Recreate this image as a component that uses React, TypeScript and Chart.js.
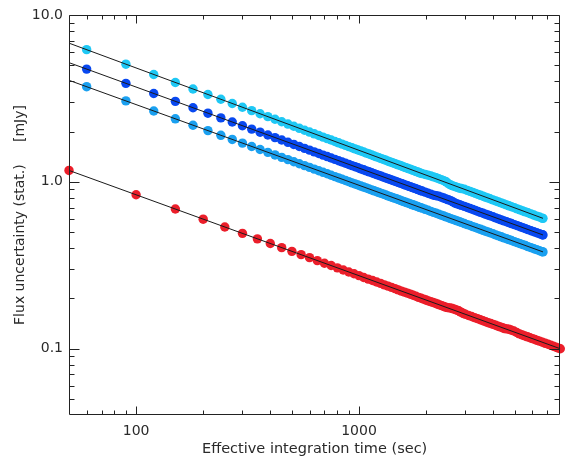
import { useEffect, useRef } from "react";
import { Chart, registerables } from "chart.js";

Chart.register(...registerables);

// Effective integration time (sec) for the three blue series
const blueTimes = [
  60, 90, 120, 150, 180, 210, 240, 270, 300, 330, 360, 390, 420, 450, 480, 510, 540, 570, 600, 630, 660, 690, 720, 750, 780, 810, 840, 870, 900, 930, 960,
  990, 1020, 1050, 1080, 1110, 1140, 1170, 1200, 1230, 1260, 1290, 1320, 1350, 1380, 1410, 1440, 1470, 1500, 1530, 1560, 1590, 1620, 1650, 1680, 1710, 1740, 1770, 1800, 1830, 1860, 1890, 1920,
  1980, 2040, 2100, 2160, 2220, 2280, 2340, 2400, 2460, 2520, 2580, 2640, 2700, 2760, 2820, 2880,
  2970, 3060, 3150, 3240, 3330, 3420, 3510, 3600, 3690, 3780, 3870,
  3990, 4110, 4230, 4350, 4470, 4590, 4710, 4830,
  4980, 5130, 5280, 5430, 5580, 5730,
  5910, 6090, 6270, 6450, 6630, 6690,
];

// Flux uncertainty (mJy)
const cyanFlux = [
  6.197, 5.072, 4.4, 3.941, 3.601, 3.337, 3.124, 2.948, 2.798, 2.67, 2.557, 2.458, 2.37, 2.29, 2.219, 2.153, 2.093, 2.038, 1.987, 1.94, 1.896, 1.854, 1.816, 1.78, 1.745, 1.713, 1.683, 1.654, 1.626, 1.6, 1.575,
  1.552, 1.529, 1.508, 1.486, 1.467, 1.447, 1.429, 1.411, 1.394, 1.377, 1.362, 1.346, 1.331, 1.317, 1.303, 1.289, 1.277, 1.264, 1.252, 1.239, 1.228, 1.217, 1.206, 1.195, 1.185, 1.174, 1.165, 1.155, 1.146, 1.136, 1.127, 1.119,
  1.107, 1.097, 1.086, 1.071, 1.057, 1.043, 1.03, 1.017, 1.0, 0.973, 0.957, 0.946, 0.936, 0.926, 0.916, 0.911,
  0.902, 0.889, 0.876, 0.864, 0.852, 0.841, 0.83, 0.82, 0.81, 0.801, 0.791,
  0.779, 0.768, 0.757, 0.747, 0.737, 0.727, 0.718, 0.709,
  0.699, 0.688, 0.679, 0.669, 0.66, 0.652,
  0.642, 0.632, 0.623, 0.615, 0.606, 0.604,
];

const darkBlueFlux = [
  4.74, 3.892, 3.385, 3.037, 2.779, 2.579, 2.416, 2.282, 2.168, 2.07, 1.984, 1.909, 1.841, 1.78, 1.725, 1.675, 1.629, 1.587, 1.548, 1.512, 1.478, 1.446, 1.417, 1.389, 1.363, 1.338, 1.315, 1.292, 1.271, 1.251, 1.232,
  1.214, 1.196, 1.18, 1.163, 1.148, 1.133, 1.119, 1.105, 1.092, 1.079, 1.067, 1.055, 1.044, 1.033, 1.022, 1.012, 1.002, 0.992, 0.982, 0.973, 0.964, 0.955, 0.947, 0.939, 0.931, 0.923, 0.915, 0.908, 0.901, 0.893, 0.886, 0.88,
  0.867, 0.854, 0.842, 0.831, 0.825, 0.819, 0.809, 0.799, 0.789, 0.78, 0.771, 0.758, 0.745, 0.737, 0.73, 0.722,
  0.712, 0.701, 0.692, 0.682, 0.673, 0.664, 0.656, 0.648, 0.64, 0.633, 0.626,
  0.617, 0.608, 0.599, 0.591, 0.583, 0.576, 0.569, 0.562,
  0.554, 0.546, 0.538, 0.531, 0.524, 0.517,
  0.509, 0.502, 0.495, 0.488, 0.482, 0.48,
];

const midBlueFlux = [
  3.717, 3.055, 2.658, 2.386, 2.184, 2.027, 1.9, 1.795, 1.706, 1.629, 1.562, 1.502, 1.449, 1.402, 1.359, 1.319, 1.283, 1.25, 1.22, 1.191, 1.165, 1.14, 1.117, 1.095, 1.074, 1.055, 1.036, 1.019, 1.002, 0.986, 0.971,
  0.957, 0.943, 0.93, 0.918, 0.906, 0.894, 0.883, 0.872, 0.862, 0.852, 0.842, 0.833, 0.824, 0.815, 0.807, 0.798, 0.791, 0.783, 0.775, 0.768, 0.761, 0.754, 0.748, 0.741, 0.735, 0.728, 0.723, 0.717, 0.711, 0.705, 0.7, 0.695,
  0.684, 0.675, 0.665, 0.656, 0.648, 0.639, 0.631, 0.624, 0.616, 0.609, 0.602, 0.595, 0.589, 0.583, 0.577, 0.571,
  0.562, 0.554, 0.547, 0.539, 0.532, 0.525, 0.519, 0.512, 0.506, 0.501, 0.495,
  0.488, 0.481, 0.474, 0.468, 0.461, 0.456, 0.45, 0.445,
  0.438, 0.432, 0.426, 0.42, 0.415, 0.409,
  0.403, 0.397, 0.392, 0.386, 0.381, 0.38,
];

const redTimes = [
  50, 100, 150, 200, 250, 300, 350, 400, 450, 500, 550, 600, 650, 700, 750, 800, 850, 900, 950, 1000,
  1050, 1100, 1150, 1200, 1250, 1300, 1350, 1400, 1450, 1500, 1550, 1600, 1650, 1700, 1750, 1800, 1850, 1900, 1950, 2000,
  2050, 2100, 2150, 2200, 2250, 2300, 2350, 2400, 2450, 2500, 2550, 2600, 2650, 2700, 2750, 2800, 2850, 2900, 2950, 3000,
  3100, 3200, 3300, 3400, 3500, 3600, 3700, 3800, 3900, 4000, 4100, 4200, 4300, 4400, 4500, 4600, 4700, 4800,
  4950, 5100, 5250, 5400, 5550, 5700, 5850, 6000, 6150, 6300, 6450,
  6650, 6850, 7050, 7250, 7450, 7650, 7850, 8000,
];

const redFlux = [
  1.17, 0.836, 0.687, 0.597, 0.536, 0.491, 0.455, 0.427, 0.403, 0.383, 0.366, 0.351, 0.337, 0.325, 0.315, 0.305, 0.296, 0.288, 0.281, 0.274,
  0.267, 0.261, 0.256, 0.251, 0.246, 0.241, 0.237, 0.233, 0.229, 0.225, 0.221, 0.218, 0.215, 0.212, 0.209, 0.206, 0.203, 0.2005, 0.198, 0.1955,
  0.193, 0.191, 0.189, 0.187, 0.185, 0.183, 0.181, 0.179, 0.177, 0.176, 0.1755, 0.175, 0.173, 0.1715, 0.17, 0.1686, 0.166, 0.164, 0.162, 0.1606,
  0.158, 0.1557, 0.1534, 0.1512, 0.149, 0.147, 0.145, 0.143, 0.1414, 0.1397, 0.138, 0.1364, 0.135, 0.1334, 0.1319, 0.1314, 0.1308, 0.1294,
  0.1275, 0.1249, 0.1225, 0.1208, 0.1192, 0.1177, 0.1162, 0.1148, 0.1134, 0.1121, 0.1109,
  0.1092, 0.1076, 0.1062, 0.1047, 0.1033, 0.102, 0.1007, 0.0998,
];

// Fitted power-law lines (end points)
const blueFitTimes = [50, 6690];
const cyanFit = [6.78, 0.604];
const darkBlueFit = [5.18, 0.48];
const midBlueFit = [4.06, 0.38];
const redFitTimes = [50, 8000];
const redFit = [1.17, 0.0998];

// Axes
const xRange = [50, 8000];
const yRange = [0.04, 10];
const xTickValues = [100, 1000];
const xTickLabels = ["100", "1000"];
const xMinorTicks = [60, 70, 80, 90, 200, 300, 400, 500, 600, 700, 800, 900, 2000, 3000, 4000, 5000, 6000, 7000];
const yTickValues = [0.1, 1, 10];
const yTickLabels = ["0.1", "1.0", "10.0"];
const yMinorTicks = [0.05, 0.06, 0.07, 0.08, 0.09, 0.2, 0.3, 0.4, 0.5, 0.6, 0.7, 0.8, 0.9, 2, 3, 4, 5, 6, 7, 8, 9];

const FONT = "'DejaVu Sans', sans-serif";
const TEXT = "#2a2a2a";
const AXIS = "#222222";

const frameTicks = {
  id: "frameTicks",
  afterDraw(chart: any) {
    const { ctx, chartArea } = chart;
    const xs = chart.scales.x;
    const ys = chart.scales.y;
    const L = Math.round(chartArea.left) + 0.5;
    const R = Math.round(chartArea.right) - 0.5;
    const T = Math.round(chartArea.top) + 0.5;
    const B = Math.round(chartArea.bottom) - 0.5;
    ctx.save();
    ctx.strokeStyle = AXIS;
    ctx.lineWidth = 1;
    ctx.beginPath();
    ctx.rect(L, T, R - L, B - T);
    const xt = (v: number, len: number) => {
      const p = Math.round(xs.getPixelForValue(v)) + 0.5;
      ctx.moveTo(p, B);
      ctx.lineTo(p, B - len);
      ctx.moveTo(p, T);
      ctx.lineTo(p, T + len);
    };
    const yt = (v: number, len: number) => {
      const p = Math.round(ys.getPixelForValue(v)) + 0.5;
      ctx.moveTo(L, p);
      ctx.lineTo(L + len, p);
      ctx.moveTo(R, p);
      ctx.lineTo(R - len, p);
    };
    xMinorTicks.forEach((v) => xt(v, 4));
    xTickValues.forEach((v) => xt(v, 8));
    yMinorTicks.forEach((v) => yt(v, 5));
    yTickValues.forEach((v) => yt(v, 10));
    ctx.stroke();
    ctx.restore();
  },
};

const pts = (ts: number[], fs: number[]) => ts.map((t, i) => ({ x: t, y: fs[i] }));

export default function App() {
  const ref = useRef<HTMLCanvasElement>(null);

  useEffect(() => {
    document.body.style.margin = "0";
    const canvas = ref.current;
    if (!canvas) return;

    const scatter = (label: string, ts: number[], fs: number[], color: string) => ({
      label,
      data: pts(ts, fs),
      backgroundColor: color,
      borderColor: color,
      pointRadius: 4.7,
      pointHoverRadius: 4.7,
      pointBorderWidth: 0,
      borderWidth: 0,
      clip: false as any,
      order: 1,
    });
    const fit = (label: string, ts: number[], fs: number[]) => ({
      label,
      data: pts(ts, fs),
      showLine: true,
      borderColor: "#1a1a1a",
      borderWidth: 1,
      pointRadius: 0,
      pointHoverRadius: 0,
      order: 0,
    });

    const chart = new Chart(canvas, {
      type: "scatter",
      data: {
        datasets: [
          fit("cyan fit", blueFitTimes, cyanFit),
          fit("dark blue fit", blueFitTimes, darkBlueFit),
          fit("mid blue fit", blueFitTimes, midBlueFit),
          fit("red fit", redFitTimes, redFit),
          scatter("cyan", blueTimes, cyanFlux, "rgb(30,200,245)"),
          scatter("dark blue", blueTimes, darkBlueFlux, "rgb(8,72,240)"),
          scatter("mid blue", blueTimes, midBlueFlux, "rgb(26,160,240)"),
          scatter("red", redTimes, redFlux, "rgb(235,30,42)"),
        ] as any,
      },
      options: {
        animation: false,
        responsive: false,
        devicePixelRatio: 1,
        layout: { padding: { top: 15, right: 2, left: 0, bottom: 0 } },
        plugins: { legend: { display: false }, tooltip: { enabled: false } },
        scales: {
          x: {
            type: "logarithmic",
            position: "bottom",
            min: xRange[0],
            max: xRange[1],
            grid: { display: false, drawTicks: false },
            border: { display: false },
            afterBuildTicks: (scale: any) => {
              scale.ticks = xTickValues.map((v) => ({ value: v }));
            },
            afterFit: (scale: any) => {
              scale.height = 47;
            },
            ticks: {
              padding: 8,
              color: TEXT,
              font: { family: FONT, size: 14 },
              maxRotation: 0,
              autoSkip: false,
              callback: (_v: any, i: number) => xTickLabels[i],
            },
            title: {
              display: true,
              text: "Effective integration time (sec)",
              color: TEXT,
              font: { family: FONT, size: 14.5 },
              padding: { top: 0, bottom: 4 },
            },
          },
          y: {
            type: "logarithmic",
            position: "left",
            min: yRange[0],
            max: yRange[1],
            grid: { display: false, drawTicks: false },
            border: { display: false },
            afterBuildTicks: (scale: any) => {
              scale.ticks = yTickValues.map((v) => ({ value: v }));
            },
            afterFit: (scale: any) => {
              scale.width = 69;
            },
            ticks: {
              padding: 6,
              color: TEXT,
              font: { family: FONT, size: 14 },
              autoSkip: false,
              callback: (_v: any, i: number) => yTickLabels[i],
            },
            title: {
              display: true,
              text: "Flux uncertainty (stat.)\u00a0\u00a0\u00a0\u00a0\u00a0[mJy]",
              color: TEXT,
              font: { family: FONT, size: 14 },
              padding: { top: 12, bottom: 0 },
            },
          },
        },
      } as any,
      plugins: [frameTicks],
    });

    return () => chart.destroy();
  }, []);

  return (
    <div style={{ width: 565, height: 462 }}>
      <canvas ref={ref} width={565} height={462} style={{ display: "block" }} />
    </div>
  );
}
